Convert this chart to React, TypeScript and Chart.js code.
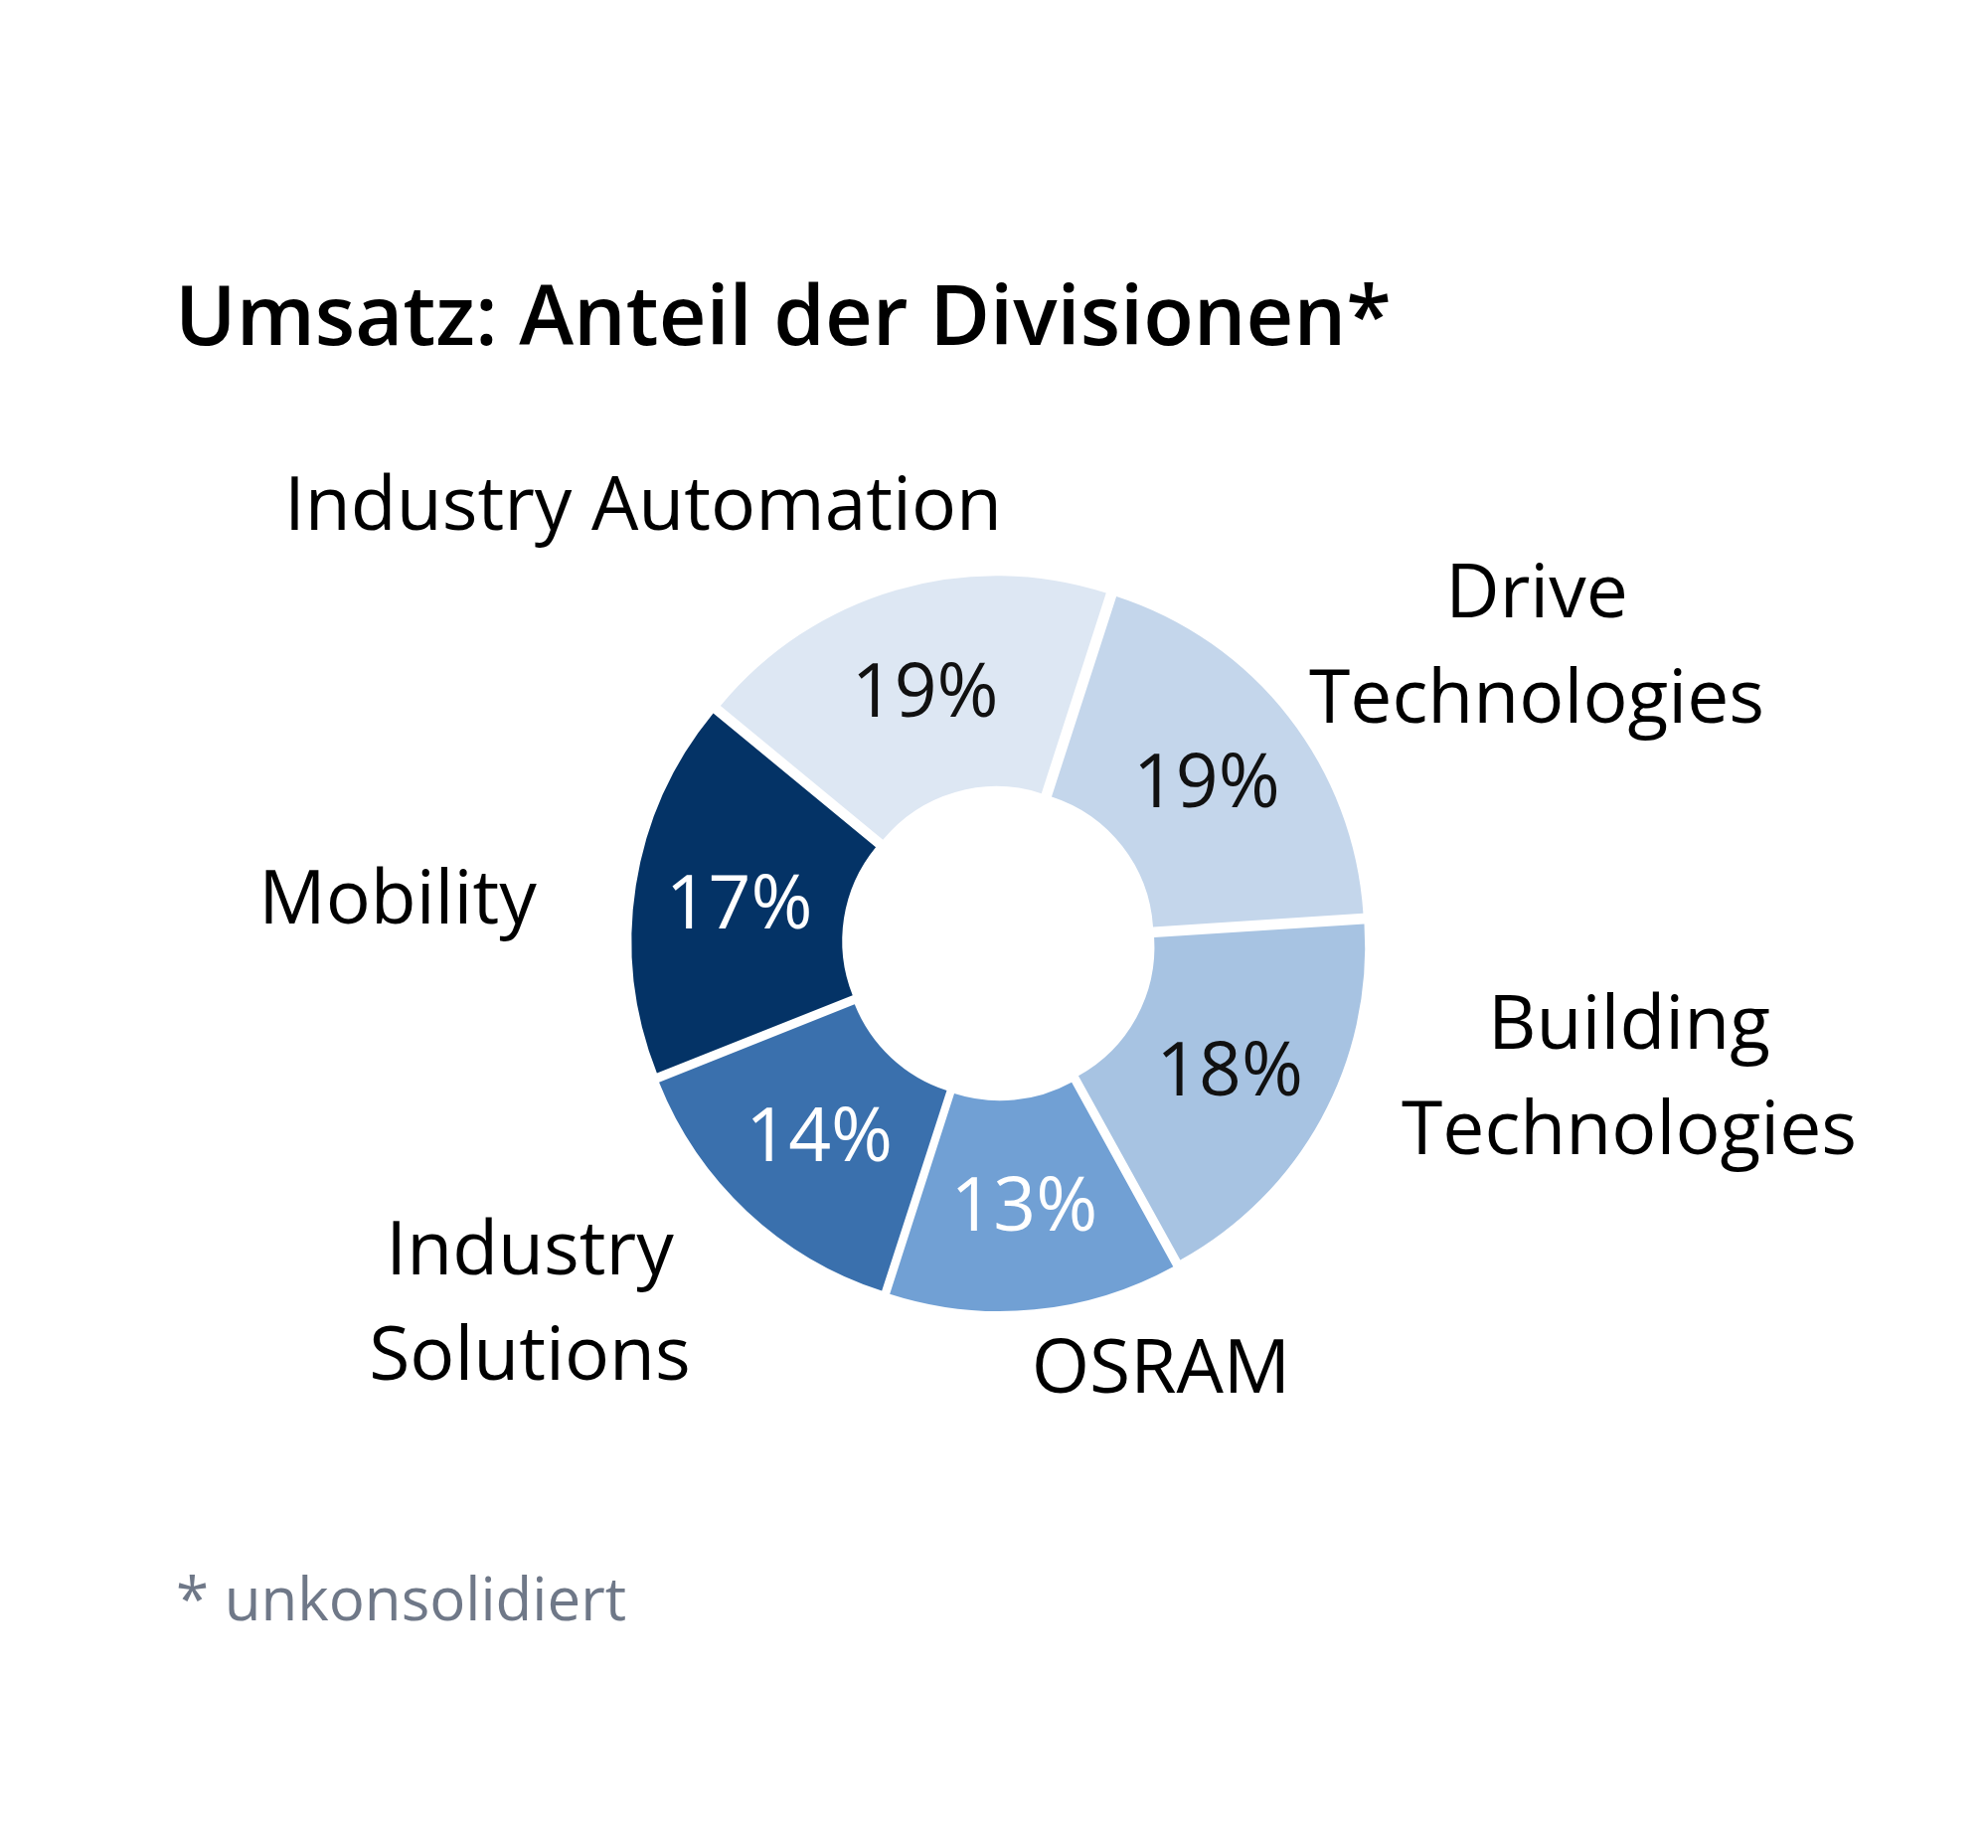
import React, { useEffect, useRef } from "react";
import { Chart, registerables } from "chart.js";

Chart.register(...registerables);

// ---- data ----
const TITLE = "Umsatz: Anteil der Divisionen*";
const FOOTNOTE = "* unkonsolidiert";
const CATEGORIES = [
  "Industry Automation",
  "Drive Technologies",
  "Building Technologies",
  "OSRAM",
  "Industry Solutions",
  "Mobility",
];
const CATEGORY_LINES = [
  ["Industry Automation"],
  ["Drive", "Technologies"],
  ["Building", "Technologies"],
  ["OSRAM"],
  ["Industry", "Solutions"],
  ["Mobility"],
];
const SHARES = [19, 19, 18, 13, 14, 17];

// ---- styles / layout ----
const SLICE_COLORS = ["#dde7f3", "#c4d6eb", "#a7c3e2", "#71a0d4", "#3a70ad", "#043366"];
const VALUE_TEXT_COLORS = ["#111111", "#111111", "#111111", "#ffffff", "#ffffff", "#ffffff"];
// category label anchor (centre x, first baseline) relative to the donut centre
const LABEL_OFFSETS = [
  [-358, -415],
  [541, -327],
  [634, 107],
  [163, 453],
  [-472, 334],
  [-605, -19],
];
const LABEL_LINE_HEIGHT = 106;
const FONT = '"Open Sans", "DejaVu Sans", sans-serif';
const LABEL_SIZE = 75;

const textPlugin = {
  id: "donutTexts",
  afterDraw(chart: any) {
    const ctx = chart.ctx as CanvasRenderingContext2D;
    const meta = chart.getDatasetMeta(0);
    ctx.save();
    // title
    ctx.fillStyle = "#000000";
    ctx.textAlign = "left";
    ctx.textBaseline = "alphabetic";
    ctx.font = `600 83px ${FONT}`;
    ctx.fillText(TITLE, 176, 347);
    // footnote
    ctx.fillStyle = "#6f7888";
    ctx.font = `400 60px ${FONT}`;
    ctx.fillText(FOOTNOTE, 177, 1630);

    let cx = 0;
    let cy = 0;
    meta.data.forEach((arc: any, i: number) => {
      const p = arc.getProps(["x", "y", "startAngle", "endAngle", "innerRadius", "outerRadius"], true);
      cx = p.x;
      cy = p.y;
      const mid = (p.startAngle + p.endAngle) / 2;
      const off = (arc.options.offset || 0) / 4;
      const r = (p.innerRadius + p.outerRadius) / 2 + off + 2;
      const x = p.x + Math.cos(mid) * r;
      const y = p.y + Math.sin(mid) * r;
      ctx.font = `400 ${LABEL_SIZE}px ${FONT}`;
      ctx.textAlign = "center";
      ctx.textBaseline = "alphabetic";
      ctx.fillStyle = VALUE_TEXT_COLORS[i];
      ctx.fillText(`${SHARES[i]}%`, x, y + LABEL_SIZE * 0.714 / 2);
    });
    // category labels
    ctx.fillStyle = "#000000";
    ctx.font = `400 ${LABEL_SIZE}px ${FONT}`;
    ctx.textAlign = "center";
    CATEGORY_LINES.forEach((lines, i) => {
      const [dx, dy] = LABEL_OFFSETS[i];
      lines.forEach((line, j) => {
        ctx.fillText(line, cx + dx, cy + dy + j * LABEL_LINE_HEIGHT);
      });
    });
    ctx.restore();
  },
};

export default function App() {
  const canvasRef = useRef<HTMLCanvasElement | null>(null);

  useEffect(() => {
    if (!canvasRef.current) return;
    const chart = new Chart(canvasRef.current, {
      type: "doughnut",
      data: {
        labels: CATEGORIES,
        datasets: [
          {
            data: SHARES,
            backgroundColor: SLICE_COLORS,
            borderWidth: 0,
            offset: 38,
            hoverOffset: 0,
          },
        ],
      },
      options: {
        responsive: true,
        maintainAspectRatio: false,
        animation: false,
        events: [],
        rotation: -50.5,
        radius: 359,
        cutout: "41%",
        layout: { padding: { left: 605, right: 595, top: 548, bottom: 511 } },
        plugins: {
          legend: { display: false },
          tooltip: { enabled: false },
          title: { display: false },
        },
      },
      plugins: [textPlugin],
    } as any);
    return () => chart.destroy();
  }, []);

  return (
    <div
      style={{
        position: "absolute",
        left: 0,
        top: 0,
        width: 2000,
        height: 1859,
        background: "#ffffff",
      }}
    >
      <canvas ref={canvasRef} />
    </div>
  );
}
